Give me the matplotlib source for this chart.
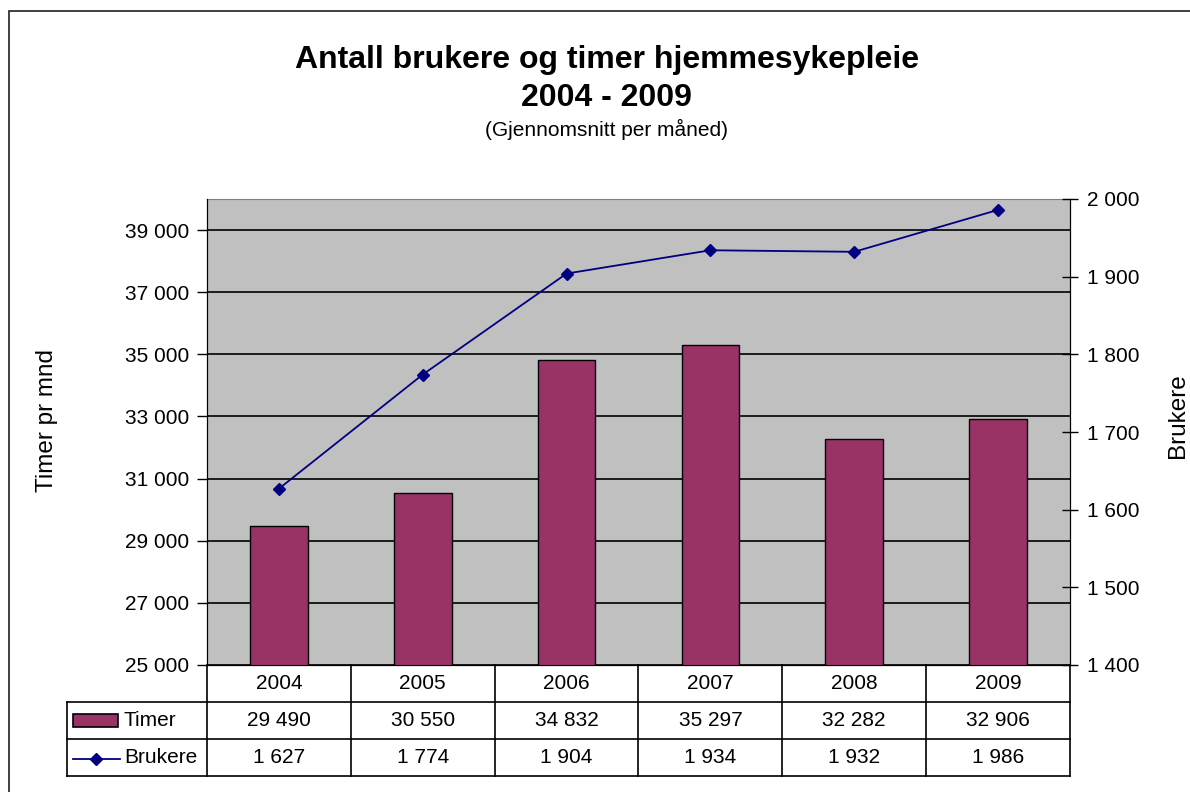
import numpy as np
import matplotlib
matplotlib.use("Agg")
import matplotlib.pyplot as plt
from matplotlib.patches import Rectangle
from matplotlib.lines import Line2D

plt.rcParams['font.family'] = ['Liberation Sans', 'DejaVu Sans']

years = ['2004', '2005', '2006', '2007', '2008', '2009']
timer = [29490, 30550, 34832, 35297, 32282, 32906]
brukere = [1627, 1774, 1904, 1934, 1932, 1986]

left_ticks = [25000, 27000, 29000, 31000, 33000, 35000, 37000, 39000]
right_ticks = [1400, 1500, 1600, 1700, 1800, 1900, 2000]

BAR = '#993366'
LINE = '#000080'
W, H = 1190, 792

def fmt(v):
    return '{:,}'.format(v).replace(',', ' ')

fig = plt.figure(figsize=(W / 100, H / 100), dpi=100)

# outer chart frame
fig.patches.append(Rectangle((9 / W, -0.01), 1.05, 1 - 11 / H + 0.01, transform=fig.transFigure,
                             fill=False, edgecolor='#202020', lw=1.2))

# plot area, pixel coords
x0, x1, ytop, ybot = 207, 1070, 199, 665
ax = fig.add_axes([x0 / W, 1 - ybot / H, (x1 - x0) / W, (ybot - ytop) / H])
ax.set_facecolor('#C0C0C0')
x = np.arange(len(years))
ax.bar(x, timer, width=0.40, color=BAR, edgecolor='black', lw=1, zorder=3)
ax.set_xlim(-0.5, len(years) - 0.5)
ax.set_ylim(25000, 40000)
ax.set_yticks(left_ticks)
ax.set_yticklabels([fmt(v) for v in left_ticks], fontsize=15)
ax.set_xticks([])
ax.grid(axis='y', color='black', lw=1.2, zorder=1)
ax.tick_params(axis='y', direction='out', length=7, width=1, pad=6)
for s in ['left', 'bottom', 'right']:
    ax.spines[s].set_color('black')
ax.spines['top'].set_color('#808080')

ax2 = ax.twinx()
ax2.plot(x, brukere, color=LINE, lw=1.3, marker='D', markersize=6.5, zorder=4)
ax2.set_ylim(1400, 2000)
ax2.set_yticks(right_ticks)
ax2.set_yticklabels([fmt(v) for v in right_ticks], fontsize=15)
ax2.tick_params(axis='y', direction='inout', length=12, width=1, pad=6)
ax2.spines['top'].set_visible(False)

fig.text(47 / W, 1 - 420 / H, 'Timer pr mnd', rotation=90, ha='center', va='center', fontsize=17.5)
fig.text(1178 / W, 1 - 416 / H, 'Brukere', rotation=90, ha='center', va='center', fontsize=17.5)

# data table under the plot
tl, tb = 67, 776
ext = (x0 - tl) / ((x1 - x0) / len(years))
tab = fig.add_axes([tl / W, 1 - tb / H, (x1 - tl) / W, (tb - ybot) / H])
tab.set_xlim(-0.5 - ext, len(years) - 0.5)
tab.set_ylim(3, 0)
tab.axis('off')
left = -0.5 - ext
kw = dict(color='black', lw=1.2, clip_on=False)
for b in np.arange(-0.5, len(years), 1.0):
    tab.plot([b, b], [0, 3], **kw)
tab.plot([left, left], [1, 3], **kw)
for r in [1, 2, 3]:
    tab.plot([left, len(years) - 0.5], [r, r], **kw)
for i, y in enumerate(years):
    tab.text(i, 0.5, y, ha='center', va='center', fontsize=15)
    tab.text(i, 1.5, fmt(timer[i]), ha='center', va='center', fontsize=15)
    tab.text(i, 2.5, fmt(brukere[i]), ha='center', va='center', fontsize=15)
# legend keys
tab.add_patch(Rectangle((left + 0.045, 1.33), 0.31, 0.34, facecolor=BAR, edgecolor='black', lw=1.2, clip_on=False))
tab.add_line(Line2D([left + 0.04, left + 0.205, left + 0.37], [2.55, 2.55, 2.55], color=LINE, lw=1.3,
                    marker='D', markersize=6.5, markevery=[1], clip_on=False))
tab.text(left + 0.395, 1.5, 'Timer', ha='left', va='center', fontsize=15)
tab.text(left + 0.395, 2.5, 'Brukere', ha='left', va='center', fontsize=15)

# titles
fig.text(0.51, 1 - 60 / H, 'Antall brukere og timer hjemmesykepleie', ha='center', va='center',
         fontsize=23, fontweight='bold')
fig.text(0.51, 1 - 98 / H, '2004 - 2009', ha='center', va='center', fontsize=23, fontweight='bold')
fig.text(0.51, 1 - 129 / H, '(Gjennomsnitt per måned)', ha='center', va='center', fontsize=15)

fig.savefig('out.png', dpi=100)
